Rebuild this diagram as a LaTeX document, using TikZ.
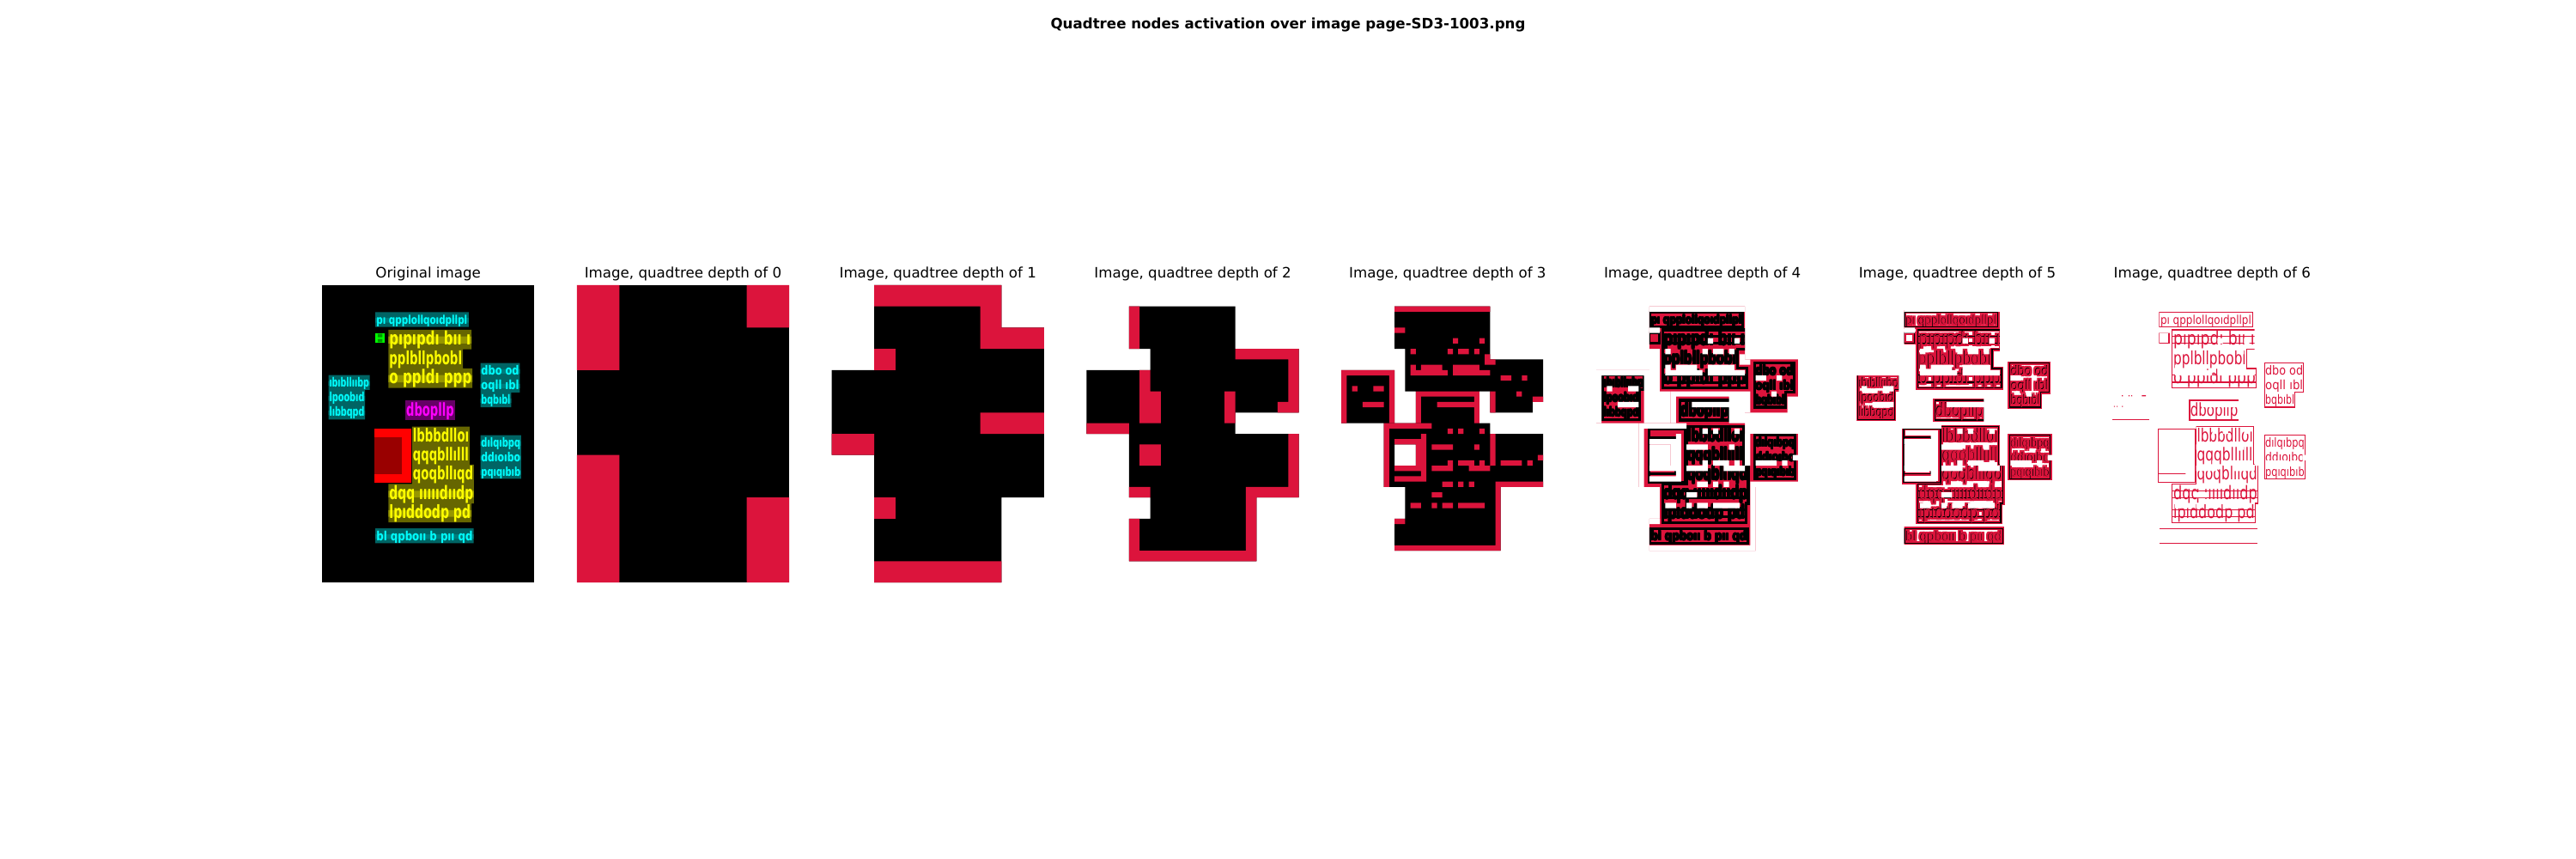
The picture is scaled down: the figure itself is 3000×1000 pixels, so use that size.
\documentclass[tikz,border=0pt]{standalone}
\usepackage{fontspec}
\setmainfont{DejaVu Sans}
\usepackage{graphicx}
\definecolor{qred}{RGB}{220,20,60}
\definecolor{tealc}{RGB}{0,100,100}
\definecolor{teall}{RGB}{0,125,125}
\definecolor{cyn}{RGB}{0,255,255}
\definecolor{oliv}{RGB}{102,102,0}
\definecolor{olivl}{RGB}{150,150,0}
\definecolor{yel}{RGB}{255,255,0}
\definecolor{purp}{RGB}{102,0,102}
\definecolor{mag}{RGB}{255,0,255}
\definecolor{rred}{RGB}{255,0,0}
\definecolor{dred}{RGB}{153,0,0}
\definecolor{grn}{RGB}{0,255,0}
\definecolor{dgrn}{RGB}{0,150,0}
\tikzset{ttl/.style={font=\fontsize{12}{14}\selectfont, anchor=base, inner sep=0pt}}
\newif\ifforce
\newif\ifweak \weaktrue
\newcommand\forcecol{black}
\newcommand\glf{\bfseries}
\newcommand\gl[6]{%
  \pgfmathsetlengthmacro\glw{((#3)-(#1))*0.55642pt}%
  \pgfmathsetlengthmacro\glh{((#4)-(#2))*0.55642pt}%
  \ifforce\def\glc{\forcecol}\else\def\glc{#5}\fi
  \node[anchor=north west,inner sep=0pt,outer sep=0pt,text=\glc] at (#1,#2) {\resizebox*{\glw}{\glh}{\glf\vphantom{dp}#6}};}
\newcommand\glyphs{%
\gl{82}{45}{219}{62.5}{cyn}{pı qpplollqoıdpllpl}
\gl{101.5}{69}{224}{96}{yel}{pıpıpdı bıı ı}
\gl{101.5}{98.5}{211}{125}{yel}{pplbllpbobl}
\gl{101.5}{127}{225.5}{154.5}{yel}{o ppldı ppp}
\ifweak
\gl{11}{139}{71}{157.5}{cyn}{ıbıbllııbp}
\gl{11}{161.5}{64}{180}{cyn}{lpoobıd}
\gl{11}{183.5}{64}{202}{cyn}{lıbbqpd}
\gl{82}{370}{227}{388.5}{cyn}{bl qpboıı b pıı qd}
\fi
\gl{240}{121}{297}{139.3}{cyn}{dbo od}
\gl{240}{143}{297}{161.5}{cyn}{oqll ıbl}
\gl{240}{165}{284}{183.5}{cyn}{bqbıbl}
\gl{127}{177}{199}{203}{mag}{dbopllp}
\gl{137}{215}{221.5}{241.5}{yel}{lbbbdlloı}
\gl{137}{244}{221}{270}{yel}{qqqbllılll}
\gl{137}{272.5}{228}{299}{yel}{qoqbllıqd}
\gl{101.5}{301.5}{228}{328.5}{yel}{dqq ıııııdııdp}
\gl{101.5}{330.5}{224}{357}{yel}{lpıddodp pd}
\gl{240}{229.5}{299}{247.8}{cyn}{dılqıbpq}
\gl{240}{251.5}{299}{269.8}{cyn}{ddıoıbo}
\gl{240}{273.5}{299}{291.5}{cyn}{pqıqıbıb}}
\newcommand\glyphsin[1]{\forcetrue\renewcommand\forcecol{#1}\glyphs\forcefalse}
\newcommand\edges[2]{\draw[#1,line width=#2]
 (80.4,40.6) rectangle (221,63.1)
 (80,72.2) rectangle (95,87.2)
 (100,67.4) -- (225.2,67.4) -- (225.2,96.8) -- (212.5,96.8) -- (212.5,125.6) -- (226.6,125.6) -- (226.6,155) -- (100,155) -- cycle
 (100,77.4) -- (225.2,77.4) (100,88) -- (225.2,88)
 (100,135.6) -- (226.6,135.6) (100,146.4) -- (226.6,146.4)
 (10,135.6) -- (72,135.6) -- (72,157.9) -- (65,157.9) -- (65,202.4) -- (10,202.4) -- cycle
 (239,117.5) -- (298,117.5) -- (298,161.7) -- (285,161.7) -- (285,183.9) -- (239,183.9) -- cycle
 (126,173.5) rectangle (200,203.3)
 (79.2,216.2) rectangle (134,297.4)
 (79.2,229.2) rectangle (120.2,284.4)
 (135.8,213.2) -- (222.5,213.2) -- (222.5,270.4) -- (229,270.4) -- (229,328.8) -- (225.3,328.8) -- (225.3,357.5) -- (100,357.5) -- (100,299.5) -- (135.8,299.5) -- cycle
 (100,310) -- (229,310) (100,320) -- (229,320)
 (100,339) -- (225.3,339) (100,349) -- (225.3,349)
 (80.4,366.4) rectangle (228.4,388.8)
 (239,226) rectangle (300,291.7);}
% depth-6 edges: sparse for left and bottom teal blocks
\newcommand\edgessix[2]{\draw[#1,line width=#2]
 (80.4,40.6) rectangle (221,63.1)
 (80,72.2) rectangle (95,87.2)
 (100,67.4) -- (225.2,67.4) -- (225.2,96.8) -- (212.5,96.8) -- (212.5,125.6) -- (226.6,125.6) -- (226.6,155) -- (100,155) -- cycle
 (100,77.4) -- (225.2,77.4) (100,88) -- (225.2,88)
 (100,135.6) -- (226.6,135.6) (100,146.4) -- (226.6,146.4)
 (10,135.6) -- (72,135.6) (10,202.4) -- (65,202.4)
 (239,117.5) -- (298,117.5) -- (298,161.7) -- (285,161.7) -- (285,183.9) -- (239,183.9) -- cycle
 (126,173.5) rectangle (200,203.3)
 (79.2,216.2) rectangle (134,297.4)
 (79.2,284.4) -- (120.2,284.4)
 (135.8,213.2) -- (222.5,213.2) -- (222.5,270.4) -- (229,270.4) -- (229,328.8) -- (225.3,328.8) -- (225.3,357.5) -- (100,357.5) -- (100,299.5) -- (135.8,299.5) -- cycle
 (100,310) -- (229,310) (100,320) -- (229,320)
 (100,339) -- (225.3,339) (100,349) -- (225.3,349)
 (80.4,366.4) -- (228.4,366.4) (80.4,388.8) -- (228.4,388.8)
 (239,226) rectangle (300,291.7);
 \fill[#1] (24,166) rectangle (25.5,167.5) (34,166) rectangle (35.5,167.5) (38,166) rectangle (39.5,167.5) (54,166) rectangle (60,167.5)
   (12,182) rectangle (13.5,183.5) (16,182) rectangle (17.5,183.5) (24,182) rectangle (25.5,183.5) (50,182) rectangle (51.5,183.5);}
% #1 colour, #2 dilation (units), #3 edge line width
\newcommand\Lfour[3]{\foreach \dx in {-#2,0,#2}{\foreach \dy in {-#2,0,#2}{\begin{scope}[shift={(\dx,\dy)}]\glyphsin{#1}\end{scope}}}\edges{#1}{#3}}
\newcommand\Lfive[1]{\renewcommand\glf{\mdseries}\glyphsin{#1}\edges{#1}{0.8pt}\renewcommand\glf{\bfseries}}
\newcommand\cs{8}
\newcommand\R[4]{({#1*\cs},{#2*\cs}) rectangle ({(#3+1)*\cs},{(#4+1)*\cs}) }
\newcommand\actthree{\R{10}{4}{27}{11} \R{12}{12}{27}{19} \R{28}{14}{37}{21} \R{28}{22}{35}{23} \R{0}{16}{9}{25} \R{14}{20}{25}{25} \R{8}{26}{27}{27} \R{8}{28}{37}{29} \R{8}{30}{9}{33} \R{14}{30}{37}{33} \R{8}{34}{37}{37} \R{12}{38}{29}{43} \R{10}{44}{29}{49}}
\newcommand\holesA{\R{10}{4}{27}{4} \R{10}{8}{11}{8} \R{21}{10}{21}{10} \R{26}{10}{26}{10} \R{13}{12}{13}{12} \R{20}{12}{20}{12} \R{22}{12}{23}{12} \R{25}{12}{25}{12} \R{27}{13}{27}{13} \R{27}{14}{28}{14} \R{13}{15}{13}{15} \R{15}{15}{18}{15} \R{21}{15}{25}{15} \R{13}{16}{19}{16} \R{21}{16}{27}{16} \R{30}{17}{31}{17} \R{34}{17}{34}{17} \R{33}{20}{33}{20} \R{36}{21}{37}{21} \R{28}{20}{28}{23} \R{0}{16}{9}{16} \R{0}{17}{0}{25} \R{9}{17}{9}{25} \R{2}{19}{2}{19} \R{6}{19}{7}{19} \R{4}{22}{7}{22} \R{14}{20}{25}{20} \R{14}{21}{14}{25} \R{25}{21}{25}{25} \R{18}{22}{24}{22}}
\newcommand\holesB{\R{8}{26}{16}{26} \R{8}{27}{8}{37} \R{20}{27}{20}{27} \R{22}{27}{22}{27} \R{26}{27}{26}{27} \R{15}{28}{15}{36} \R{10}{29}{14}{29} \R{14}{30}{14}{34} \R{10}{34}{13}{34} \R{10}{36}{14}{36} \R{17}{30}{20}{30} \R{25}{30}{25}{30} \R{20}{33}{20}{33} \R{22}{33}{24}{33} \R{26}{33}{26}{33} \R{17}{34}{20}{34} \R{24}{34}{27}{34} \R{28}{28}{28}{33} \R{30}{33}{33}{33} \R{35}{33}{35}{33} \R{37}{32}{37}{32}}
\newcommand\holesC{\R{29}{37}{37}{37} \R{19}{37}{20}{37} \R{22}{37}{22}{37} \R{24}{37}{24}{37} \R{29}{38}{29}{49} \R{17}{39}{18}{39} \R{13}{41}{14}{41} \R{17}{41}{17}{41} \R{19}{41}{20}{41} \R{22}{41}{26}{41} \R{10}{44}{11}{44} \R{10}{49}{28}{49}}
\newcommand\whiteholes{\fill[white] \holesA; \fill[white] \holesB; \fill[white] \holesC;}
\begin{document}
\begin{tikzpicture}[x=0.72pt,y=-0.72pt]
\useasboundingbox (0,0) rectangle (3000,1000);
\fill[white] (0,0) rectangle (3000,1000);
\node[font=\bfseries\fontsize{12}{14}\selectfont, anchor=base, inner sep=0pt] (sup) at (1500,33.5) {Quadtree nodes activation over image page-SD3-1003.png};
\node[ttl] (t0) at (498.65,323.6) {Original image};
\node[ttl] (t1) at (795.45,323.6) {Image, quadtree depth of 0};
\node[ttl] (t2) at (1092.25,323.6) {Image, quadtree depth of 1};
\node[ttl] (t3) at (1389.05,323.6) {Image, quadtree depth of 2};
\node[ttl] (t4) at (1685.85,323.6) {Image, quadtree depth of 3};
\node[ttl] (t5) at (1982.65,323.6) {Image, quadtree depth of 4};
\node[ttl] (t6) at (2279.45,323.6) {Image, quadtree depth of 5};
\node[ttl] (t7) at (2576.25,323.6) {Image, quadtree depth of 6};
% ---------- original image
\begin{scope}[shift={(375,331.9)},scale=0.7728]
\fill[black] (0,0) rectangle (320,448);
\fill[tealc] (80.4,40.6) rectangle (221,63.1) (10,135.6) -- (72,135.6) -- (72,157.9) -- (65,157.9) -- (65,202.4) -- (10,202.4) -- cycle
  (239,117.5) -- (298,117.5) -- (298,161.7) -- (285,161.7) -- (285,183.9) -- (239,183.9) -- cycle
  (80.4,366.4) rectangle (228.4,388.8) (239,226) rectangle (300,291.7);
\fill[teall] (80.4,49.6) rectangle (221,56.6) (10,144.6) rectangle (72,151.6) (10,166.9) rectangle (65,173.9) (10,189.1) rectangle (65,196.1)
  (239,126.5) rectangle (298,133.5) (239,148.7) rectangle (298,155.7) (239,170.7) rectangle (285,177.7)
  (80.4,375.4) rectangle (228.4,382.4) (239,235) rectangle (300,242) (239,256.9) rectangle (300,263.9) (239,278.8) rectangle (300,285.8);
\fill[grn] (80,72.2) rectangle (95,87.2);
\fill[dgrn] (84,73.5) rectangle (91,78.5) (84,81) rectangle (91,86);
\fill[oliv] (100,67.4) -- (225.2,67.4) -- (225.2,96.8) -- (212.5,96.8) -- (212.5,125.6) -- (226.6,125.6) -- (226.6,155) -- (100,155) -- cycle
  (135.8,213.2) -- (222.5,213.2) -- (222.5,270.4) -- (229,270.4) -- (229,328.8) -- (225.3,328.8) -- (225.3,357.5) -- (100,357.5) -- (100,299.5) -- (135.8,299.5) -- cycle;
\fill[olivl] (100,77.4) rectangle (225.2,88) (100,135.6) rectangle (226.6,146.4) (100,310) rectangle (229,320) (100,339) rectangle (225.3,349);
\fill[purp] (126,173.5) rectangle (200,203.3);
\fill[rred] (79.2,216.2) rectangle (134,297.4);
\fill[dred] (79.2,229.2) rectangle (120.2,284.4);
\glyphs
\end{scope}
% ---------- depth 0
\begin{scope}[shift={(671.8,331.9)},scale=0.7728]
\renewcommand\cs{64}
\fill[black] (0,0) rectangle (320,448);
\fill[qred] \R{0}{0}{0}{1} \R{4}{0}{4}{0} \R{0}{4}{0}{6} \R{4}{5}{4}{6};
\end{scope}
% ---------- depth 1
\begin{scope}[shift={(968.6,331.9)},scale=0.7728]
\renewcommand\cs{32}
\fill[black] \R{2}{0}{7}{13} \R{0}{4}{1}{7} \R{8}{2}{9}{9};
\fill[qred] \R{2}{0}{7}{0} \R{7}{1}{7}{1} \R{7}{2}{9}{2} \R{2}{3}{2}{3} \R{7}{6}{9}{6} \R{0}{7}{1}{7} \R{2}{10}{2}{10} \R{2}{13}{7}{13};
\end{scope}
% ---------- depth 2
\begin{scope}[shift={(1265.4,331.9)},scale=0.7728]
\renewcommand\cs{16}
\fill[black] \R{4}{2}{13}{5} \R{6}{6}{19}{7} \R{0}{8}{19}{11} \R{0}{12}{13}{13} \R{4}{14}{19}{19} \R{6}{20}{15}{21} \R{4}{22}{15}{25};
\fill[qred] \R{4}{2}{4}{5} \R{14}{6}{19}{6} \R{19}{7}{19}{11} \R{5}{8}{5}{12} \R{6}{10}{6}{12} \R{13}{10}{13}{12} \R{18}{11}{18}{11} \R{0}{13}{3}{13} \R{5}{15}{6}{16} \R{19}{14}{19}{19} \R{4}{19}{5}{19} \R{15}{19}{18}{19} \R{15}{20}{15}{24} \R{4}{22}{4}{24} \R{4}{25}{15}{25};
\end{scope}
% ---------- depth 3
\begin{scope}[shift={(1562.2,331.9)},scale=0.7728]
\fill[black] \actthree;
\fill[qred] \holesA; \fill[qred] \holesB; \fill[qred] \holesC;
\end{scope}
% ---------- depth 4
\begin{scope}[shift={(1859,331.9)},scale=0.7728]
\fill[qred] \actthree;
\begin{scope}\clip \actthree; \Lfour{black}{0.8}{2.2pt}\end{scope}
\whiteholes
\end{scope}
% ---------- depth 5
\begin{scope}[shift={(2155.8,331.9)},scale=0.7728]
\begin{scope}\clip \actthree; \Lfour{qred}{2.4}{3pt}\Lfive{black}
\begin{scope}[shift={(0.8,0.8)}]\renewcommand\glf{\mdseries}\glyphsin{qred}\end{scope}
\end{scope}
\whiteholes
\end{scope}
% ---------- depth 6
\begin{scope}[shift={(2452.6,331.9)},scale=0.7728]
\begin{scope}\clip \actthree; \weakfalse\renewcommand\glf{\mdseries}\glyphsin{qred}\edgessix{qred}{0.8pt}\end{scope}
\whiteholes
\end{scope}
\end{tikzpicture}
\end{document}
